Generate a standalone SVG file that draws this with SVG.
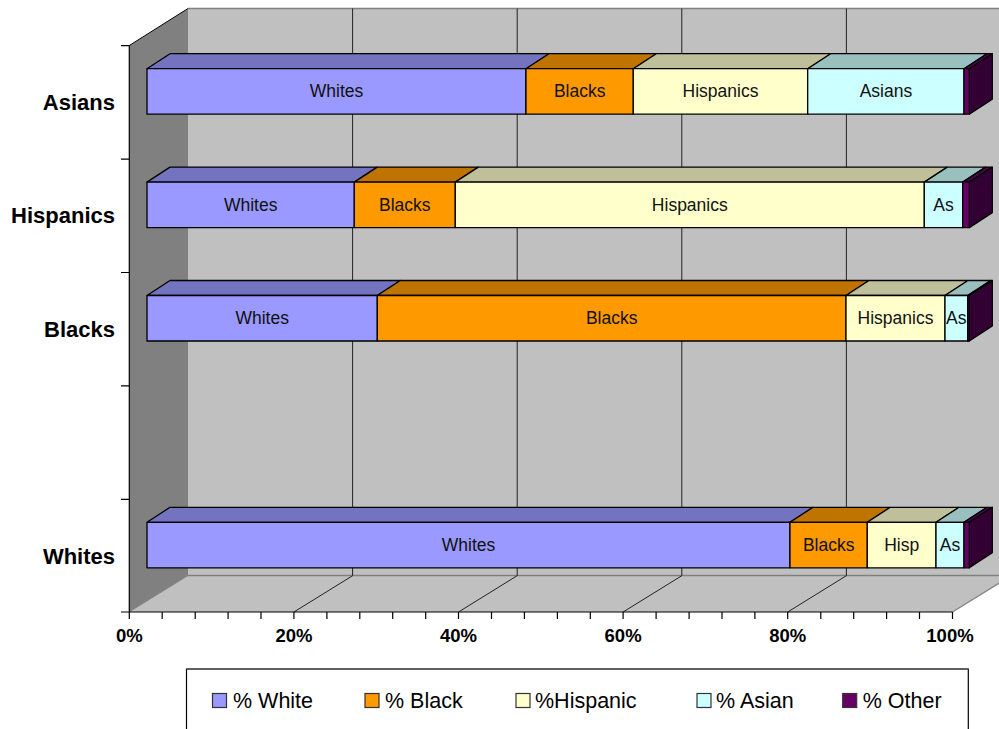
<svg xmlns="http://www.w3.org/2000/svg" width="999" height="729" viewBox="0 0 999 729">
<style>
.fw{fill:#9999FF}.tw{fill:#7373BF}
.fb{fill:#FF9900}.tb{fill:#BF7300}
.fh{fill:#FFFFCC}.th{fill:#BFBF99}
.fa{fill:#CCFFFF}.ta{fill:#99BFBF}
.fo{fill:#660066}.to{fill:#4D004D}.ro{fill:#330033}
.bar rect,.bar polygon{stroke:#000;stroke-width:1.3;stroke-linejoin:round}
.lbl{font-family:"Liberation Sans",Arial,sans-serif;font-size:17.5px;fill:#111;text-anchor:middle}
.cat{font-family:"Liberation Sans",Arial,sans-serif;font-size:22px;font-weight:bold;fill:#000;text-anchor:end}
.ax{font-family:"Liberation Sans",Arial,sans-serif;font-size:18.5px;font-weight:bold;fill:#000;text-anchor:middle}
.leg{font-family:"Liberation Sans",Arial,sans-serif;font-size:21.5px;fill:#000}
.lm{stroke:#333;stroke-width:1.2}
</style>
<rect width="999" height="729" fill="#FFFFFF"/>
<g id="plot-area">
  <rect x="188" y="8.5" width="823" height="567" fill="#C0C0C0"/>
  <line x1="188" y1="8.5" x2="999" y2="8.5" stroke="#808080" stroke-width="1.5"/>
  <polygon points="129,45.7 188,8.5 188,575.5 129,612" fill="#808080"/>
  <line x1="129" y1="45.7" x2="188" y2="8.5" stroke="#000" stroke-width="1"/>
  <polygon points="129,612 952.5,612 1011.5,575.5 188,575.5" fill="#C0C0C0"/>
  <line x1="188" y1="575.5" x2="999" y2="575.5" stroke="#808080" stroke-width="1.5"/>
  <line x1="129" y1="612" x2="188" y2="575.5" stroke="#808080" stroke-width="1"/>
  <line x1="952.5" y1="612" x2="1011.5" y2="575.5" stroke="#808080" stroke-width="1.2"/>
  <g stroke="#222" stroke-width="1">
    <line x1="352.6" y1="8.5" x2="352.6" y2="575.5"/>
    <line x1="517.2" y1="8.5" x2="517.2" y2="575.5"/>
    <line x1="681.8" y1="8.5" x2="681.8" y2="575.5"/>
    <line x1="846.4" y1="8.5" x2="846.4" y2="575.5"/>
    <line x1="293.9" y1="612" x2="352.9" y2="575.5"/>
    <line x1="458.5" y1="612" x2="517.5" y2="575.5"/>
    <line x1="623.1" y1="612" x2="682.1" y2="575.5"/>
    <line x1="787.7" y1="612" x2="846.7" y2="575.5"/>
  </g>
</g>
<g id="axes" stroke="#000" stroke-width="1.2" fill="none">
  <line x1="129.3" y1="45.7" x2="129.3" y2="612"/>
  <line x1="129.3" y1="612" x2="952.5" y2="612"/>
  <path d="M121,45.7H129.3M121,159.1H129.3M121,272.5H129.3M121,385.9H129.3M121,499.3H129.3M121,612H129.3"/>
  <path d="M129.3,612V619M162.2,612V619M195.2,612V619M228.1,612V619M261,612V619M293.9,612V619M326.9,612V619M359.8,612V619M392.7,612V619M425.7,612V619M458.5,612V619M491.5,612V619M524.4,612V619M557.4,612V619M590.3,612V619M623.1,612V619M656.1,612V619M689.1,612V619M722,612V619M754.9,612V619M787.7,612V619M820.8,612V619M853.7,612V619M886.6,612V619M919.5,612V619M952.5,612V619"/>
</g>
<g id="axis-labels">
  <text class="cat" x="115" y="110">Asians</text>
  <text class="cat" x="115" y="223.4">Hispanics</text>
  <text class="cat" x="115" y="336.8">Blacks</text>
  <text class="cat" x="115" y="563.6">Whites</text>
  <text class="ax" x="129.3" y="642">0%</text>
  <text class="ax" x="293.9" y="642">20%</text>
  <text class="ax" x="458.5" y="642">40%</text>
  <text class="ax" x="623.1" y="642">60%</text>
  <text class="ax" x="787.7" y="642">80%</text>
  <text class="ax" x="950" y="642">100%</text>
</g>
<g id="bar-asians" class="bar">
  <polygon class="tw" points="147,68.7 170,53.7 549,53.7 526,68.7"/>
  <polygon class="tb" points="526,68.7 549,53.7 656.3,53.7 633.3,68.7"/>
  <polygon class="th" points="633.3,68.7 656.3,53.7 830.7,53.7 807.7,68.7"/>
  <polygon class="ta" points="807.7,68.7 830.7,53.7 987,53.7 964,68.7"/>
  <polygon class="to" points="964,68.7 987,53.7 992.3,53.7 969.3,68.7"/>
  <polygon class="ro" points="969.3,68.7 992.3,53.7 992.3,99.2 969.3,114.2"/>
  <rect class="fw" x="147" y="68.7" width="379" height="45.5"/>
  <rect class="fb" x="526" y="68.7" width="107.3" height="45.5"/>
  <rect class="fh" x="633.3" y="68.7" width="174.4" height="45.5"/>
  <rect class="fa" x="807.7" y="68.7" width="156.3" height="45.5"/>
  <rect class="fo" x="964" y="68.7" width="5.3" height="45.5"/>
  <text class="lbl" x="336.5" y="97.3">Whites</text>
  <text class="lbl" x="579.7" y="97.3">Blacks</text>
  <text class="lbl" x="720.5" y="97.3">Hispanics</text>
  <text class="lbl" x="885.9" y="97.3">Asians</text>
</g>
<g id="bar-hispanics" class="bar">
  <polygon class="tw" points="147,182.1 170,167.1 377.3,167.1 354.3,182.1"/>
  <polygon class="tb" points="354.3,182.1 377.3,167.1 478.3,167.1 455.3,182.1"/>
  <polygon class="th" points="455.3,182.1 478.3,167.1 947.3,167.1 924.3,182.1"/>
  <polygon class="ta" points="924.3,182.1 947.3,167.1 985.7,167.1 962.7,182.1"/>
  <polygon class="to" points="962.7,182.1 985.7,167.1 992.3,167.1 969.3,182.1"/>
  <polygon class="ro" points="969.3,182.1 992.3,167.1 992.3,212.6 969.3,227.6"/>
  <rect class="fw" x="147" y="182.1" width="207.3" height="45.5"/>
  <rect class="fb" x="354.3" y="182.1" width="101" height="45.5"/>
  <rect class="fh" x="455.3" y="182.1" width="469" height="45.5"/>
  <rect class="fa" x="924.3" y="182.1" width="38.4" height="45.5"/>
  <rect class="fo" x="962.7" y="182.1" width="6.6" height="45.5"/>
  <text class="lbl" x="250.7" y="210.7">Whites</text>
  <text class="lbl" x="404.8" y="210.7">Blacks</text>
  <text class="lbl" x="689.8" y="210.7">Hispanics</text>
  <text class="lbl" x="943.5" y="210.7">As</text>
</g>
<g id="bar-blacks" class="bar">
  <polygon class="tw" points="147,295.5 170,280.5 400.3,280.5 377.3,295.5"/>
  <polygon class="tb" points="377.3,295.5 400.3,280.5 869,280.5 846,295.5"/>
  <polygon class="th" points="846,295.5 869,280.5 968,280.5 945,295.5"/>
  <polygon class="ta" points="945,295.5 968,280.5 990.7,280.5 967.7,295.5"/>
  <polygon class="to" points="967.7,295.5 990.7,280.5 992.3,280.5 969.3,295.5"/>
  <polygon class="ro" points="969.3,295.5 992.3,280.5 992.3,326 969.3,341"/>
  <rect class="fw" x="147" y="295.5" width="230.3" height="45.5"/>
  <rect class="fb" x="377.3" y="295.5" width="468.7" height="45.5"/>
  <rect class="fh" x="846" y="295.5" width="99" height="45.5"/>
  <rect class="fa" x="945" y="295.5" width="22.7" height="45.5"/>
  <rect class="fo" x="967.7" y="295.5" width="1.6" height="45.5"/>
  <text class="lbl" x="262.2" y="324.1">Whites</text>
  <text class="lbl" x="611.7" y="324.1">Blacks</text>
  <text class="lbl" x="895.5" y="324.1">Hispanics</text>
  <text class="lbl" x="956.3" y="324.1">As</text>
</g>
<g id="bar-whites" class="bar">
  <polygon class="tw" points="147,522.3 170,507.3 813,507.3 790,522.3"/>
  <polygon class="tb" points="790,522.3 813,507.3 890.3,507.3 867.3,522.3"/>
  <polygon class="th" points="867.3,522.3 890.3,507.3 959,507.3 936,522.3"/>
  <polygon class="ta" points="936,522.3 959,507.3 987,507.3 964,522.3"/>
  <polygon class="to" points="964,522.3 987,507.3 992.3,507.3 969.3,522.3"/>
  <polygon class="ro" points="969.3,522.3 992.3,507.3 992.3,552.8 969.3,567.8"/>
  <rect class="fw" x="147" y="522.3" width="643" height="45.5"/>
  <rect class="fb" x="790" y="522.3" width="77.3" height="45.5"/>
  <rect class="fh" x="867.3" y="522.3" width="68.7" height="45.5"/>
  <rect class="fa" x="936" y="522.3" width="28" height="45.5"/>
  <rect class="fo" x="964" y="522.3" width="5.3" height="45.5"/>
  <text class="lbl" x="468.5" y="550.9">Whites</text>
  <text class="lbl" x="828.7" y="550.9">Blacks</text>
  <text class="lbl" x="901.7" y="550.9">Hisp</text>
  <text class="lbl" x="950" y="550.9">As</text>
</g>
<g id="connectors"></g>
<g id="legend">
  <path d="M186.5,735V669H968.3V735" fill="#FFFFFF" stroke="#000" stroke-width="1.2"/>
  <line x1="186.5" y1="669" x2="968.3" y2="669" stroke="#555" stroke-width="1.5"/>
  <g id="legend-white"><rect class="fw lm" x="212.5" y="693.5" width="14" height="14"/><text class="leg" x="233" y="708">% White</text></g>
  <g id="legend-black"><rect class="fb lm" x="365" y="693.5" width="14" height="14"/><text class="leg" x="385" y="708">% Black</text></g>
  <g id="legend-hispanic"><rect class="fh lm" x="516" y="693.5" width="14" height="14"/><text class="leg" x="535" y="708">%Hispanic</text></g>
  <g id="legend-asian"><rect class="fa lm" x="697" y="693.5" width="14" height="14"/><text class="leg" x="716" y="708">% Asian</text></g>
  <g id="legend-other"><rect class="fo lm" x="842.7" y="693.5" width="14" height="14"/><text class="leg" x="862.7" y="708">% Other</text></g>
</g>
</svg>
